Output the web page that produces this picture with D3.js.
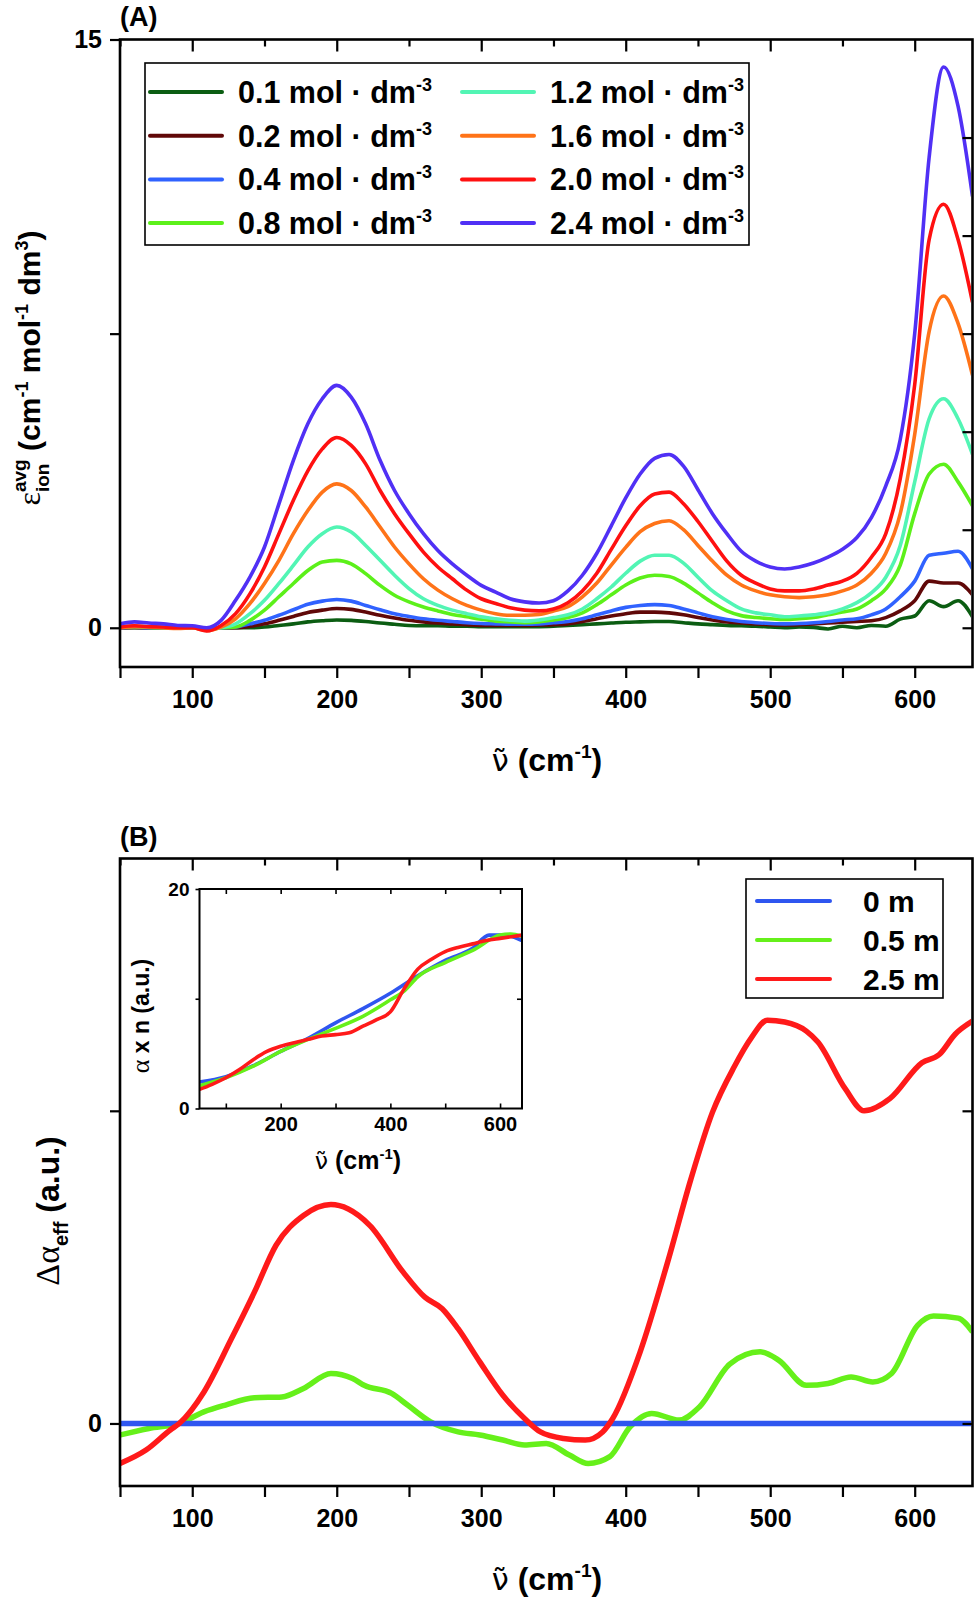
<!DOCTYPE html>
<html><head><meta charset="utf-8">
<script src="https://cdn.jsdelivr.net/npm/d3@7/dist/d3.min.js"></script>
<style>body{margin:0;background:#fff}svg{display:block}text{white-space:pre}</style>
</head><body>
<svg id="c" width="980" height="1603"></svg>
<script>
// ---------- DATA ----------
const concLabels = ['0.1','0.2','0.4','0.8','1.2','1.6','2.0','2.4'];
const wn = [50,60,70,80,90,100,110,120,130,140,150,160,170,180,190,200,210,220,230,240,250,260,270,280,290,300,310,320,330,340,350,360,370,380,390,400,410,420,430,440,450,460,470,480,490,500,510,520,530,540,550,560,570,580,590,600,610,620,630,640];
const c01 = [0.00,0.00,0.00,0.00,0.00,0.00,-0.02,0.00, 0.00,0.00,0.02,0.06,0.10,0.15,0.18,0.20, 0.19,0.16,0.12,0.09,0.06,0.05,0.05,0.04, 0.04,0.03,0.03,0.03,0.03,0.03,0.04,0.06, 0.08,0.10,0.12,0.14,0.15,0.16,0.16,0.13, 0.10,0.08,0.06,0.05,0.04,0.02,0.00,0.02, 0.01,-0.03,0.04,0.00,0.06,0.04,0.22,0.30, 0.69,0.54,0.69,0.28];
const c02 = [0.00,0.01,0.00,0.00,0.00,0.00,-0.02,0.00, 0.00,0.04,0.10,0.19,0.29,0.39,0.45,0.49, 0.47,0.40,0.32,0.25,0.19,0.15,0.12,0.10, 0.08,0.06,0.06,0.06,0.06,0.07,0.08,0.10, 0.16,0.23,0.30,0.36,0.40,0.40,0.38,0.33, 0.26,0.20,0.15,0.12,0.10,0.08,0.07,0.08, 0.10,0.12,0.14,0.16,0.18,0.26,0.43,0.69, 1.19,1.14,1.14,0.84];
const c04 = [0.00,0.02,0.00,0.00,0.00,0.00,-0.03,0.00, 0.02,0.10,0.19,0.32,0.46,0.60,0.68,0.72, 0.68,0.57,0.46,0.36,0.29,0.23,0.19,0.16, 0.13,0.11,0.10,0.09,0.09,0.10,0.13,0.16, 0.23,0.33,0.43,0.52,0.57,0.59,0.57,0.48, 0.38,0.28,0.21,0.16,0.13,0.11,0.10,0.11, 0.13,0.16,0.20,0.23,0.33,0.48,0.79,1.19, 1.85,1.90,1.95,1.50];
const c08 = [0.01,0.03,0.01,0.00,0.00,0.00,-0.04,0.00, 0.02,0.19,0.45,0.79,1.13,1.46,1.68,1.72, 1.63,1.38,1.08,0.83,0.66,0.53,0.43,0.34, 0.28,0.22,0.17,0.15,0.13,0.15,0.20,0.26, 0.38,0.59,0.84,1.09,1.27,1.34,1.31,1.14, 0.89,0.64,0.43,0.31,0.26,0.23,0.21,0.23, 0.26,0.33,0.40,0.48,0.69,0.99,1.60,2.91, 3.92,4.17,3.72,3.11];
const c12 = [0.02,0.04,0.02,0.01,0.00,0.00,-0.05,0.00, 0.10,0.36,0.70,1.13,1.59,2.06,2.40,2.57, 2.44,2.10,1.72,1.34,1.00,0.74,0.57,0.45, 0.36,0.28,0.23,0.19,0.17,0.20,0.26,0.33, 0.48,0.74,1.04,1.39,1.70,1.85,1.85,1.65, 1.29,0.94,0.69,0.48,0.38,0.33,0.28,0.30, 0.33,0.38,0.48,0.64,0.89,1.29,2.10,3.72, 5.33,5.84,5.33,4.42];
const c16 = [0.00,0.03,0.02,0.00,-0.02,0.00,-0.07,0.02, 0.23,0.62,1.13,1.72,2.40,2.99,3.46,3.67, 3.50,3.08,2.57,2.06,1.63,1.25,0.96,0.74, 0.57,0.45,0.36,0.32,0.32,0.34,0.43,0.54, 0.79,1.14,1.60,2.05,2.45,2.66,2.73,2.50, 2.10,1.70,1.34,1.09,0.94,0.84,0.79,0.77, 0.79,0.84,0.94,1.09,1.39,1.90,2.91,4.93, 7.56,8.46,7.76,6.44];
const c20 = [0.02,0.05,0.03,0.02,0.00,0.00,-0.08,0.06, 0.36,0.87,1.55,2.40,3.25,4.00,4.56,4.85, 4.65,4.18,3.50,2.91,2.40,1.93,1.55,1.25, 0.96,0.74,0.62,0.51,0.45,0.43,0.48,0.64, 0.94,1.39,2.00,2.60,3.11,3.41,3.46,3.16, 2.71,2.20,1.70,1.34,1.14,0.99,0.94,0.94, 0.99,1.09,1.19,1.39,1.80,2.40,3.80,6.20, 9.90,10.8,9.90,8.30];
const c24 = [0.10,0.15,0.12,0.10,0.06,0.05,0.00,0.19, 0.70,1.30,2.06,3.16,4.27,5.20,5.84,6.18, 5.88,5.20,4.27,3.50,2.91,2.40,1.97,1.63, 1.34,1.08,0.91,0.74,0.66,0.63,0.69,0.94, 1.34,1.90,2.60,3.31,3.92,4.32,4.42,4.12, 3.52,2.91,2.40,1.95,1.70,1.55,1.50,1.55, 1.65,1.80,2.00,2.30,2.81,3.62,4.80,7.50, 12.0,14.3,13.3,11.0];
const seriesA = [c01,c02,c04,c08,c12,c16,c20,c24];
const colorsA = ['#0b5d12','#600808','#3062ff','#5cf01a','#52f5b4','#ff7318','#ff1010','#5030f5'];

const xTickVals = [50,100,150,200,250,300,350,400,450,500,550,600];
const xLabelVals = [100,200,300,400,500,600];
const yTicksA = [0,7.5,15];
const yLabelsA = [0,15];
const yRightA = [0,2.5,5,7.5,10,12.5];

const mLabels = ['0 m','0.5 m','2.5 m'];
const colorsB = ['#2f56f0','#66f01a','#ff1a1a'];
const bBlueWn = [50,640];
const bBlueVal = [0,0];
const bGreenWn = [50,70,91,108,123,143,162,177,196,211,219,238,249,265,284,299,315,330,345,361,374,389,403,418,437,451,472,493,506,525,540,556,571,584,602,613,630,640];
const bGreenVal = [-0.037,-0.016,0,0.037,0.059,0.082,0.085,0.112,0.16,0.144,0.122,0.096,0.059,0.005,-0.027,-0.037,-0.053,-0.069,-0.064,-0.101,-0.128,-0.106,-0.011,0.032,0.011,0.053,0.19,0.229,0.202,0.122,0.128,0.149,0.133,0.16,0.314,0.344,0.337,0.293];
const bRedWn = [50,68,85,91,108,127,143,158,177,196,208,223,246,261,273,284,299,315,330,341,357,372,384,391,410,429,445,460,475,487,498,510,525,533,552,565,583,605,617,628,640];
const bRedVal = [-0.128,-0.085,-0.02,0,0.10,0.27,0.42,0.57,0.665,0.70,0.686,0.633,0.484,0.404,0.367,0.303,0.197,0.09,0.016,-0.027,-0.048,-0.053,-0.027,0.016,0.229,0.516,0.78,0.995,1.14,1.234,1.29,1.284,1.255,1.22,1.07,1.0,1.04,1.154,1.18,1.245,1.287];
const yTicksB = [0,1];

const iBlueWn = [50,100,150,200,250,300,350,400,450,500,550,580,610,640];
const iBlueVal = [2.4,2.9,3.9,5.2,6.4,7.8,9.1,10.5,12.1,13.5,14.6,15.8,15.8,15.3];
const iGreenWn = [50,100,150,200,250,300,350,400,425,450,500,550,600,620,640];
const iGreenVal = [2.05,2.8,3.85,5.2,6.3,7.3,8.4,9.9,10.7,12.0,13.3,14.4,15.8,15.9,15.7];
const iRedWn = [50,75,100,125,150,175,200,225,250,275,300,325,350,375,400,425,450,475,500,525,550,575,600,640];
const iRedVal = [1.7,2.2,2.8,3.55,4.45,5.2,5.67,6.0,6.3,6.6,6.73,6.9,7.5,8.1,8.8,10.9,12.7,13.6,14.3,14.7,15.0,15.3,15.5,15.8];
const iXTicks = [100,200,300,400,500,600];
const iXLabels = [200,400,600];
const iYTicks = [0,10,20];

// ---------- SETUP ----------
const SANS = '"Liberation Sans", Arial, sans-serif';
const SERIF = '"Liberation Serif", "Times New Roman", serif';
const NUFONT = '"DejaVu Sans", sans-serif';
const svg = d3.select('#c');
svg.append('rect').attr('width',980).attr('height',1603).attr('fill','#fff');

function measure(str, fs, weight, fam){
  const t = svg.append('text').attr('font-size',fs).attr('font-weight',weight).attr('font-family',fam).style('white-space','pre').text(str);
  const w = t.node().getComputedTextLength(); t.remove(); return w;
}
function rich(parent, runs, x, y, anchor, rot){
  const t = parent.append('text').attr('x',x).attr('y',y).attr('text-anchor',anchor).attr('fill','#000');
  if (rot) t.attr('transform',`rotate(${rot},${x},${y})`);
  let cur = 0;
  for (const r of runs){
    const s = t.append('tspan').text(r.t).attr('font-size',r.fs).attr('font-weight',r.w||'bold').attr('font-family',r.fam||SANS);
    const sh = r.sh||0;
    if (sh!==cur) s.attr('dy', cur - sh);
    if (r.dx) s.attr('dx', r.dx);
    cur = sh;
  }
  return t;
}
function nuLabel(parent, fs, x, y){
  return rich(parent, [
    {t:'ν\u0303', fs:fs*0.95, w:'normal', fam:NUFONT},
    {t:' (cm', fs:fs, sh:0},
    {t:'-1', fs:fs*0.6, sh:fs*0.42},
    {t:')', fs:fs, sh:0}
  ], x, y, 'middle');
}
function styleAxis(g, fs){
  g.select('.domain').remove();
  g.selectAll('line').attr('stroke','#000').attr('stroke-width',2.2);
  g.selectAll('text').attr('font-family',SANS).attr('font-weight','bold').attr('font-size',fs).attr('fill','#000');
}

// ---------- PANEL A ----------
const xA = d3.scaleLinear([50,640],[120,972.5]);
const yA = d3.scaleLinear([-1,15],[667,39.5]);
const gA = svg.append('g');
gA.append('clipPath').attr('id','clipA').append('rect').attr('x',121).attr('y',40).attr('width',850).attr('height',626);
const lineA = d3.line().x((d,i)=>xA(wn[i])).y(d=>yA(d)).curve(d3.curveMonotoneX);
seriesA.forEach((s,k)=>{
  gA.append('path').attr('d',lineA(s)).attr('fill','none').attr('stroke',colorsA[k]).attr('stroke-width',3.6).attr('stroke-linejoin','round').attr('clip-path','url(#clipA)');
});
gA.append('g').attr('transform',`translate(0,${yA(-1)})`)
  .call(d3.axisBottom(xA).tickValues(xTickVals).tickSize(11).tickPadding(12).tickFormat(d=>xLabelVals.includes(d)?d:''))
  .call(g=>styleAxis(g,25));
gA.append('g').attr('transform',`translate(0,${yA(15)})`)
  .call(d3.axisTop(xA).tickValues(xTickVals).tickSize(-12).tickFormat(''))
  .call(g=>styleAxis(g,25))
  .call(g=>g.selectAll('.tick line').attr('y2',d=>d%100===0?12:7));
gA.append('g').attr('transform',`translate(${xA(50)},0)`)
  .call(d3.axisLeft(yA).tickValues(yTicksA).tickSize(10).tickPadding(8).tickFormat(d=>yLabelsA.includes(d)?d:''))
  .call(g=>styleAxis(g,25));
gA.append('g').attr('transform',`translate(${xA(640)},0)`)
  .call(d3.axisRight(yA).tickValues(yRightA).tickSize(-10).tickFormat(''))
  .call(g=>styleAxis(g,25));
gA.append('rect').attr('x',xA(50)).attr('y',yA(15)).attr('width',xA(640)-xA(50)).attr('height',yA(-1)-yA(15)).attr('fill','none').attr('stroke','#000').attr('stroke-width',2.6);

// legend A
const legA = gA.append('g');
legA.append('rect').attr('x',145).attr('y',63).attr('width',604).attr('height',182).attr('fill','#fff').attr('stroke','#000').attr('stroke-width',1.6);
concLabels.forEach((lab,k)=>{
  const col = Math.floor(k/4), row = k%4;
  const cy = 92 + row*43.7;
  const lx = col===0 ? 150 : 462;
  legA.append('line').attr('x1',lx).attr('x2',lx+72).attr('y1',cy).attr('y2',cy).attr('stroke',colorsA[k]).attr('stroke-width',4).attr('stroke-linecap','round');
  rich(legA, [{t:lab+' mol · dm', fs:30.5},{t:'-3', fs:18, sh:12}], lx+88, cy+11, 'start');
});
gA.append('text').attr('x',120).attr('y',26).attr('font-family',SANS).attr('font-weight','bold').attr('font-size',27).text('(A)');
nuLabel(gA, 32, 547, 771);
{
  const fsS = 19;
  const wAvg = measure('avg', fsS, 'bold', SANS), wIon = measure('ion', fsS, 'bold', SANS);
  rich(gA, [
    {t:'ε', fs:32, w:'normal', fam:SERIF},
    {t:'avg', fs:fsS, sh:14},
    {t:'ion', fs:fsS, sh:-9, dx:-wAvg},
    {t:' (cm', fs:30, sh:0, dx:Math.max(0,wAvg-wIon)},
    {t:'-1', fs:18, sh:12},
    {t:' mol', fs:30, sh:0},
    {t:'-1', fs:18, sh:12},
    {t:' dm', fs:30, sh:0},
    {t:'3', fs:18, sh:12},
    {t:')', fs:30, sh:0}
  ], 40, 368, 'middle', -90);
}

// ---------- PANEL B ----------
const xB = d3.scaleLinear([50,640],[120,972.5]);
const yB = d3.scaleLinear([-0.2,1.807],[1486,858.5]);
const gB = svg.append('g');
gB.append('clipPath').attr('id','clipB').append('rect').attr('x',121).attr('y',859).attr('width',850).attr('height',626);
const lineB = (xs,ys)=> d3.line().x((d,i)=>xB(xs[i])).y(d=>yB(d)).curve(d3.curveMonotoneX)(ys);
[[bGreenWn,bGreenVal,1],[bBlueWn,bBlueVal,0],[bRedWn,bRedVal,2]].forEach(([xs,ys,k])=>{
  gB.append('path').attr('d',lineB(xs,ys)).attr('fill','none').attr('stroke',colorsB[k]).attr('stroke-width',5.5).attr('stroke-linejoin','round').attr('clip-path','url(#clipB)');
});
gB.append('g').attr('transform',`translate(0,${yB(-0.2)})`)
  .call(d3.axisBottom(xB).tickValues(xTickVals).tickSize(11).tickPadding(12).tickFormat(d=>xLabelVals.includes(d)?d:''))
  .call(g=>styleAxis(g,25));
gB.append('g').attr('transform',`translate(0,${yB(1.807)})`)
  .call(d3.axisTop(xB).tickValues(xTickVals).tickSize(-12).tickFormat(''))
  .call(g=>styleAxis(g,25))
  .call(g=>g.selectAll('.tick line').attr('y2',d=>d%100===0?12:7));
gB.append('g').attr('transform',`translate(${xB(50)},0)`)
  .call(d3.axisLeft(yB).tickValues(yTicksB).tickSize(10).tickPadding(8).tickFormat(d=>d===0?'0':''))
  .call(g=>styleAxis(g,25));
gB.append('g').attr('transform',`translate(${xB(640)},0)`)
  .call(d3.axisRight(yB).tickValues(yTicksB).tickSize(-10).tickFormat(''))
  .call(g=>styleAxis(g,25));
gB.append('rect').attr('x',xB(50)).attr('y',yB(1.807)).attr('width',xB(640)-xB(50)).attr('height',yB(-0.2)-yB(1.807)).attr('fill','none').attr('stroke','#000').attr('stroke-width',2.6);

// legend B
const legB = gB.append('g');
legB.append('rect').attr('x',746).attr('y',879).attr('width',197).attr('height',119).attr('fill','#fff').attr('stroke','#000').attr('stroke-width',1.6);
mLabels.forEach((lab,k)=>{
  const cy = 901 + k*39;
  legB.append('line').attr('x1',757).attr('x2',830).attr('y1',cy).attr('y2',cy).attr('stroke',colorsB[k]).attr('stroke-width',4).attr('stroke-linecap','round');
  legB.append('text').attr('x',863).attr('y',cy+11).attr('font-family',SANS).attr('font-weight','bold').attr('font-size',30).text(lab);
});
gB.append('text').attr('x',120).attr('y',846).attr('font-family',SANS).attr('font-weight','bold').attr('font-size',27).text('(B)');
nuLabel(gB, 32, 547, 1590);
rich(gB, [
  {t:'Δα', fs:34, w:'normal', fam:SERIF},
  {t:'eff', fs:20, sh:-9},
  {t:' (a.u.)', fs:32, sh:0}
], 59, 1211, 'middle', -90);

// inset
const xI = d3.scaleLinear([52,640],[199.5,522]);
const yI = d3.scaleLinear([0,20],[1108.5,889]);
const gI = gB.append('g');
gI.append('rect').attr('x',xI(52)).attr('y',yI(20)).attr('width',xI(640)-xI(52)).attr('height',yI(0)-yI(20)).attr('fill','#fff');
gI.append('clipPath').attr('id','clipI').append('rect').attr('x',xI(52)).attr('y',yI(20)).attr('width',xI(640)-xI(52)).attr('height',yI(0)-yI(20));
const lineI = (xs,ys)=> d3.line().x((d,i)=>xI(xs[i])).y(d=>yI(d)).curve(d3.curveMonotoneX)(ys);
[[iBlueWn,iBlueVal,0],[iGreenWn,iGreenVal,1],[iRedWn,iRedVal,2]].forEach(([xs,ys,k])=>{
  gI.append('path').attr('d',lineI(xs,ys)).attr('fill','none').attr('stroke',colorsB[k]).attr('stroke-width',3.6).attr('stroke-linejoin','round').attr('clip-path','url(#clipI)');
});
gI.append('g').attr('transform',`translate(0,${yI(0)})`)
  .call(d3.axisBottom(xI).tickValues(iXTicks).tickSize(-5).tickPadding(8).tickFormat(d=>iXLabels.includes(d)?d:''))
  .call(g=>styleAxis(g,20)).call(g=>g.selectAll('line').attr('stroke-width',1.6));
gI.append('g').attr('transform',`translate(0,${yI(20)})`)
  .call(d3.axisTop(xI).tickValues(iXTicks).tickSize(-5).tickFormat(''))
  .call(g=>styleAxis(g,20)).call(g=>g.selectAll('line').attr('stroke-width',1.6));
gI.append('g').attr('transform',`translate(${xI(52)},0)`)
  .call(d3.axisLeft(yI).tickValues(iYTicks).tickSize(4).tickPadding(6).tickFormat(d=>d===10?'':d))
  .call(g=>styleAxis(g,19)).call(g=>g.selectAll('line').attr('stroke-width',1.6));
gI.append('g').attr('transform',`translate(${xI(640)},0)`)
  .call(d3.axisRight(yI).tickValues([10]).tickSize(-5).tickFormat(''))
  .call(g=>styleAxis(g,19)).call(g=>g.selectAll('line').attr('stroke-width',1.6));
gI.append('rect').attr('x',xI(52)).attr('y',yI(20)).attr('width',xI(640)-xI(52)).attr('height',yI(0)-yI(20)).attr('fill','none').attr('stroke','#000').attr('stroke-width',2);
nuLabel(gI, 25, 358, 1169);
rich(gI, [
  {t:'α', fs:26, w:'normal', fam:SERIF},
  {t:' x n (a.u.)', fs:23, sh:0}
], 149, 1016, 'middle', -90);
</script>
</body></html>
